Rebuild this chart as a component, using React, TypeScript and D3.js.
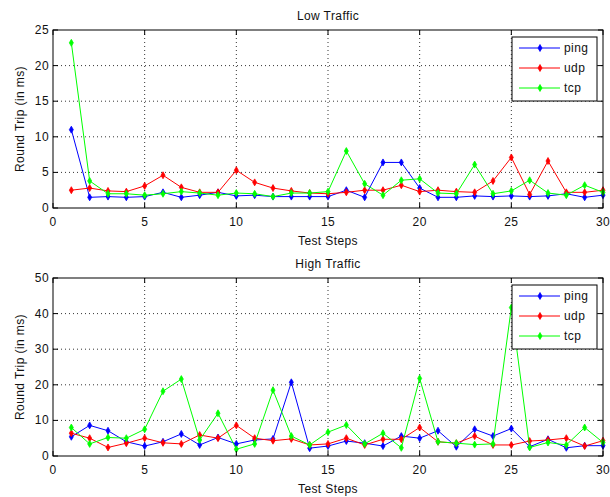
import React from "react";
import * as d3 from "d3";

const steps = d3.range(1, 31);
const lowPing = [11, 1.5, 1.6, 1.5, 1.6, 2.2, 1.5, 1.8, 2.2, 1.7, 1.8, 1.6, 1.6, 1.6, 1.6, 2.5, 1.5, 6.4, 6.4, 2.8, 1.5, 1.5, 1.7, 1.6, 1.7, 1.6, 1.7, 2.0, 1.5, 1.8];
const lowUdp = [2.5, 2.8, 2.4, 2.3, 3.1, 4.6, 2.9, 2.2, 2.2, 5.3, 3.6, 2.8, 2.4, 2.1, 2.0, 2.2, 2.5, 2.5, 3.2, 2.3, 2.5, 2.3, 2.2, 3.8, 7.1, 1.9, 6.6, 2.2, 2.2, 2.5];
const lowTcp = [23.2, 3.8, 2.0, 2.0, 1.8, 2.0, 2.3, 2.1, 1.8, 2.1, 2.0, 1.6, 2.1, 2.1, 2.3, 8.0, 3.4, 1.8, 3.9, 4.1, 2.1, 2.0, 6.1, 2.0, 2.4, 3.9, 2.1, 1.8, 3.2, 2.2];
const highPing = [5.4, 8.6, 7.1, 4.0, 2.8, 4.0, 6.2, 3.1, 5.2, 3.4, 4.5, 4.8, 20.7, 2.2, 2.8, 4.2, 3.6, 2.8, 5.6, 5.0, 7.1, 2.6, 7.5, 5.6, 7.7, 2.6, 4.7, 2.3, 2.9, 2.9];
const highUdp = [6.4, 5.0, 2.4, 3.6, 5.0, 3.7, 3.4, 5.9, 5.0, 8.6, 5.0, 4.3, 4.8, 3.1, 3.4, 5.0, 3.1, 4.7, 4.7, 8.0, 4.0, 3.6, 5.6, 3.1, 3.1, 4.2, 4.5, 5.0, 2.8, 4.3];
const highTcp = [8.0, 3.4, 5.2, 5.0, 7.5, 18.2, 21.6, 4.5, 12.0, 1.9, 3.4, 18.5, 5.6, 3.1, 6.7, 8.7, 3.4, 6.4, 2.3, 21.8, 4.0, 3.6, 3.2, 3.4, 41.7, 2.4, 3.8, 3.1, 8.0, 3.8];
const seriesNames = ["ping", "udp", "tcp"];
const seriesColors = ["#0000ff", "#ff0000", "#00ff00"];
const xTicks = [0, 5, 10, 15, 20, 25, 30];
const lowYTicks = [0, 5, 10, 15, 20, 25];
const highYTicks = [0, 10, 20, 30, 40, 50];

const FONT = "Liberation Sans, Arial, sans-serif";
const FS = 12;
const LS = 0.4;

type PanelProps = {
  top: number;
  bottom: number;
  yMax: number;
  yTicks: number[];
  title: string;
  data: number[][];
};

function Panel({ top, bottom, yMax, yTicks, title, data }: PanelProps) {
  const left = 53, right = 603;
  const x = d3.scaleLinear().domain([0, 30]).range([left, right]);
  const y = d3.scaleLinear().domain([0, yMax]).range([bottom, top]);
  const line = d3.line<number>().x((_, i) => x(steps[i])).y((d) => y(d));
  const sym = d3.symbol().type(d3.symbolDiamond).size(14);
  const tl = 5;
  const lx = 512, ly = top + 7, lw = 85, lh = 64;
  const textProps = { fontFamily: FONT, fontSize: FS, letterSpacing: LS, fill: "#111" };
  return (
    <g>
      <rect x={left} y={top} width={right - left} height={bottom - top} fill="#fff" />
      {xTicks.slice(1, -1).map((t) => (
        <line key={"gx" + t} x1={x(t)} x2={x(t)} y1={top} y2={bottom} stroke="#000" strokeWidth={0.8} strokeDasharray="1,3" />
      ))}
      {yTicks.slice(1, -1).map((t) => (
        <line key={"gy" + t} x1={left} x2={right} y1={y(t)} y2={y(t)} stroke="#000" strokeWidth={0.8} strokeDasharray="1,3" />
      ))}
      {data.map((s, k) => (
        <g key={"s" + k}>
          <path d={line(s) || ""} fill="none" stroke={seriesColors[k]} strokeWidth={1} />
          {s.map((v, i) => (
            <path key={i} d={sym() || ""} transform={`translate(${x(steps[i])},${y(v)})`} fill={seriesColors[k]} stroke={seriesColors[k]} strokeWidth={0.8} />
          ))}
        </g>
      ))}
      <rect x={left} y={top} width={right - left} height={bottom - top} fill="none" stroke="#000" strokeWidth={1} />
      {xTicks.map((t) => (
        <g key={"tx" + t}>
          <line x1={x(t)} x2={x(t)} y1={bottom} y2={bottom - tl} stroke="#000" />
          <line x1={x(t)} x2={x(t)} y1={top} y2={top + tl} stroke="#000" />
          <text x={x(t)} y={bottom + 18} textAnchor="middle" {...textProps}>{t}</text>
        </g>
      ))}
      {yTicks.map((t) => (
        <g key={"ty" + t}>
          <line x1={left} x2={left + tl} y1={y(t)} y2={y(t)} stroke="#000" />
          <line x1={right} x2={right - tl} y1={y(t)} y2={y(t)} stroke="#000" />
          <text x={left - 4} y={y(t) + 4} textAnchor="end" {...textProps}>{t}</text>
        </g>
      ))}
      <text x={(left + right) / 2} y={top - 10} textAnchor="middle" {...textProps}>{title}</text>
      <text x={(left + right) / 2} y={bottom + 37} textAnchor="middle" {...textProps}>Test Steps</text>
      <text transform={`translate(24,${(top + bottom) / 2}) rotate(-90)`} textAnchor="middle" {...textProps}>Round Trip (in ms)</text>
      <rect x={lx} y={ly} width={lw} height={lh} fill="#fff" stroke="#000" strokeWidth={1} />
      {seriesNames.map((n, k) => {
        const yy = ly + 11 + k * 20;
        return (
          <g key={n}>
            <line x1={lx + 7} x2={lx + 48} y1={yy} y2={yy} stroke={seriesColors[k]} strokeWidth={1} />
            <path d={sym() || ""} transform={`translate(${lx + 28},${yy})`} fill={seriesColors[k]} stroke={seriesColors[k]} strokeWidth={0.8} />
            <text x={lx + 52} y={yy + 4} {...textProps}>{n}</text>
          </g>
        );
      })}
    </g>
  );
}

export default function App() {
  return (
    <svg width={610} height={497} style={{ position: "absolute", left: 0, top: 0, background: "#fff" }}>
      <rect x={0} y={0} width={610} height={497} fill="#fff" />
      <Panel top={30} bottom={208} yMax={25} yTicks={lowYTicks} title="Low Traffic" data={[lowPing, lowUdp, lowTcp]} />
      <Panel top={278} bottom={456} yMax={50} yTicks={highYTicks} title="High Traffic" data={[highPing, highUdp, highTcp]} />
    </svg>
  );
}
